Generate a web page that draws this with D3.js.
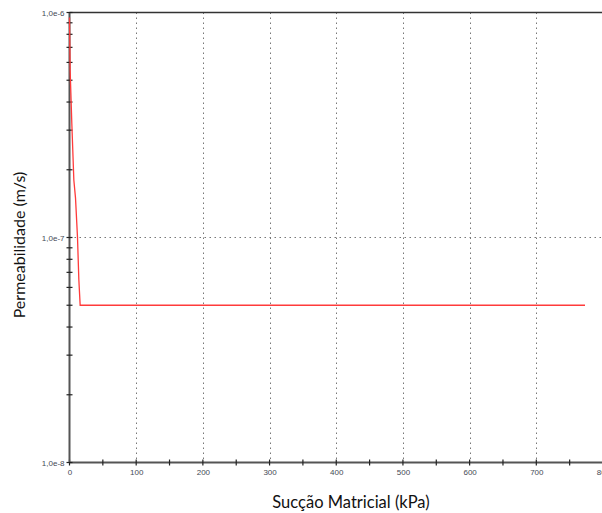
<!DOCTYPE html>
<html>
<head>
<meta charset="utf-8">
<script src="https://cdn.jsdelivr.net/npm/d3@7"></script>
<style>
  html, body { margin: 0; padding: 0; background: #fff; }
  svg { display: block; }
</style>
</head>
<body>
<svg id="chart" width="602" height="513"></svg>
<script>
// Curva de permeabilidade: sucção matricial (kPa) x permeabilidade (m/s)
const suction = [0, 1, 3.5, 6.5, 9, 12, 14, 16, 773];
const permeability = [9.5e-7, 5.5e-7, 3.2e-7, 1.8e-7, 1.5e-7, 1.0e-7, 6.5e-8, 5.0e-8, 5.0e-8];
const xTicks = [0, 100, 200, 300, 400, 500, 600, 700, 800];
const xMinorTicks = [50, 150, 250, 350, 450, 550, 650, 750];
const yTicks = [1e-8, 1e-7, 1e-6];
const yTickLabels = ["1,0e-8", "1,0e-7", "1,0e-6"];

const svg = d3.select("#chart");
const plotLeft = 69.5, plotRight = 603, plotTop = 12.5, plotBottom = 462.5;

const x = d3.scaleLinear().domain([0, 800]).range([plotLeft, plotRight]);
const y = d3.scaleLog().domain([1e-8, 1e-6]).range([plotBottom, plotTop]);

const gridColor = "#777";
const axisColor = "#555";
const tickTextColor = "#454a55";

// grade pontilhada
svg.append("g").selectAll("line").data(xTicks.filter(d => d > 0))
  .join("line")
  .attr("x1", d => Math.round(x(d)) + 0.5).attr("x2", d => Math.round(x(d)) + 0.5)
  .attr("y1", plotTop).attr("y2", plotBottom)
  .attr("stroke", gridColor).attr("stroke-width", 1)
  .attr("stroke-dasharray", "1.5,3.5");

svg.append("g").selectAll("line").data([1e-7])
  .join("line")
  .attr("x1", plotLeft).attr("x2", plotRight)
  .attr("y1", d => y(d)).attr("y2", d => y(d))
  .attr("stroke", gridColor).attr("stroke-width", 1)
  .attr("stroke-dasharray", "1.5,3.5");

// borda superior
svg.append("line")
  .attr("x1", plotLeft).attr("x2", plotRight).attr("y1", plotTop).attr("y2", plotTop)
  .attr("stroke", "#333").attr("stroke-width", 1.5);

// eixo X
const xAxis = svg.append("g").attr("transform", `translate(0,${plotBottom})`);
xAxis.call(d3.axisBottom(x).tickValues(xTicks).tickSize(0).tickPadding(7)
  .tickFormat(d3.format("d")));
xAxis.select(".domain").remove();
xAxis.selectAll("text")
  .attr("font-family", "Liberation Sans, Arial, sans-serif")
  .attr("font-size", 8).attr("fill", tickTextColor);
xAxis.append("line").attr("x1", plotLeft).attr("x2", plotRight)
  .attr("stroke", axisColor).attr("stroke-width", 2);
xAxis.selectAll(".xmaj").data(xTicks).join("line").attr("class", "xmaj")
  .attr("x1", d => x(d)).attr("x2", d => x(d)).attr("y1", -3).attr("y2", 3)
  .attr("stroke", "#222").attr("stroke-width", 1.2);
xAxis.selectAll(".xmin").data(xMinorTicks).join("line").attr("class", "xmin")
  .attr("x1", d => x(d)).attr("x2", d => x(d)).attr("y1", -3).attr("y2", 3)
  .attr("stroke", "#222").attr("stroke-width", 1.2);

// eixo Y (logarítmico)
const yAxis = svg.append("g").attr("transform", `translate(${plotLeft},0)`);
yAxis.call(d3.axisLeft(y).tickValues(yTicks).tickSize(0).tickPadding(5)
  .tickFormat((d, i) => yTickLabels[i]));
yAxis.select(".domain").remove();
yAxis.selectAll("text")
  .attr("font-family", "Liberation Sans, Arial, sans-serif")
  .attr("font-size", 8).attr("fill", tickTextColor);
yAxis.append("line").attr("y1", plotTop).attr("y2", plotBottom)
  .attr("stroke", axisColor).attr("stroke-width", 2);
const yMinor = [];
[1e-8, 1e-7].forEach(dec => { for (let k = 2; k <= 9; k++) yMinor.push(dec * k); });
yAxis.selectAll(".ymin").data(yMinor.concat(yTicks)).join("line").attr("class", "ymin")
  .attr("x1", -3).attr("x2", 3).attr("y1", d => y(d)).attr("y2", d => y(d))
  .attr("stroke", "#222").attr("stroke-width", 1.2);

// curva
const pts = suction.map((s, i) => [s, permeability[i]]);
svg.append("path").datum(pts)
  .attr("fill", "none").attr("stroke", "#ff3b3b").attr("stroke-width", 1.3)
  .attr("d", d3.line().x(d => x(d[0])).y(d => y(d[1])));

// títulos dos eixos
svg.append("text")
  .attr("x", 351).attr("y", 508)
  .attr("text-anchor", "middle")
  .attr("font-family", "Lato, Carlito, Calibri, sans-serif").attr("font-size", 16.5)
  .attr("fill", "#111").text("Sucção Matricial (kPa)");

svg.append("text")
  .attr("transform", `translate(25,245) rotate(-90)`)
  .attr("text-anchor", "middle")
  .attr("font-family", "Lato, Carlito, Calibri, sans-serif").attr("font-size", 16)
  .attr("fill", "#111").text("Permeabilidade (m/s)");
</script>
</body>
</html>
